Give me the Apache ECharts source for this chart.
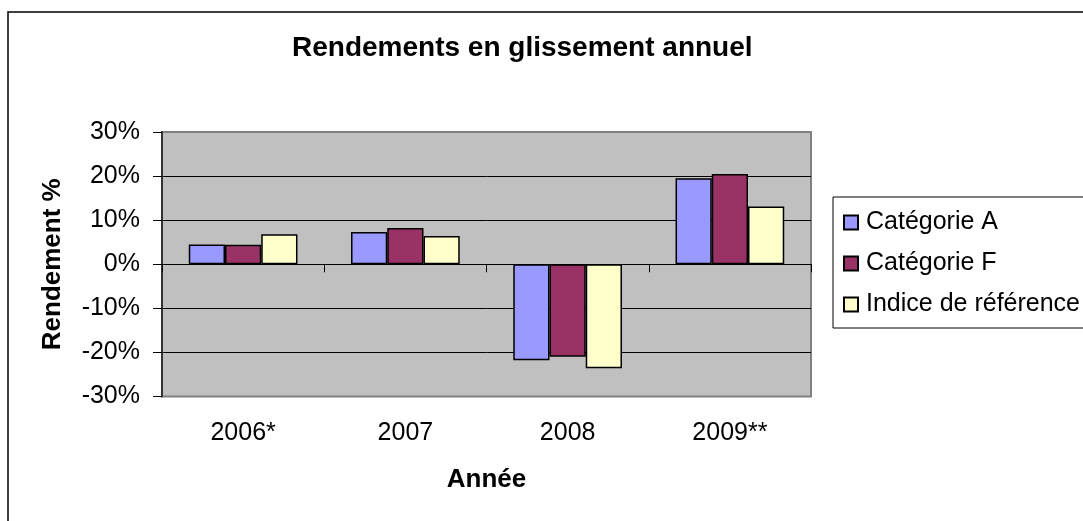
<!DOCTYPE html>
<html>
<head>
<meta charset="utf-8">
<script src="https://cdn.jsdelivr.net/npm/echarts@6/dist/echarts.min.js"></script>
<style>
html,body{margin:0;padding:0;background:#fff;}
#chart{width:1083px;height:521px;}
</style>
</head>
<body>
<div id="chart"></div>
<script>
const categories = ['2006*', '2007', '2008', '2009**'];
const seriesNames = ['Catégorie A', 'Catégorie F', 'Indice de référence'];
const categorieA = [4.5, 7.3, -21.8, 19.5];
const categorieF = [4.4, 8.2, -21.0, 20.5];
const indiceReference = [6.8, 6.4, -23.6, 13.1];
const yMin = -30, yMax = 30, yStep = 10;

const FONT = 'Liberation Sans, Arial, Helvetica, sans-serif';
const colors = ['#9999FF', '#993366', '#FFFFCC'];
const values = [categorieA, categorieF, indiceReference];

const chart = echarts.init(document.getElementById('chart'));
chart.setOption({
  animation: false,
  backgroundColor: '#ffffff',
  textStyle: { fontFamily: FONT, color: '#000' },
  title: {
    text: 'Rendements en glissement annuel',
    left: 287, top: 29,
    textStyle: { fontFamily: FONT, fontSize: 28, fontWeight: 'bold', color: '#000' }
  },
  graphic: [{
    type: 'rect', silent: true, z: -1,
    shape: { x: 8, y: 12, width: 1100, height: 530 },
    style: { fill: 'none', stroke: '#000', lineWidth: 1.5 }
  }],
  legend: {
    orient: 'vertical',
    left: 833, top: 197,
    padding: [13, 30, 11, 10],
    itemWidth: 14, itemHeight: 14, itemGap: 16,
    icon: 'rect',
    backgroundColor: '#fff',
    borderColor: '#000', borderWidth: 1,
    textStyle: { fontFamily: FONT, fontSize: 25, color: '#000', lineHeight: 25, padding: [0, 0, 0, 3] },
    data: seriesNames
  },
  grid: {
    left: 162, right: 272, top: 132, bottom: 124.5,
    show: true, backgroundColor: '#C0C0C0',
    borderColor: '#808080', borderWidth: 2
  },
  xAxis: [{
    type: 'category', data: categories, position: 'bottom',
    axisLine: { onZero: true, lineStyle: { color: '#000', width: 1 } },
    axisTick: { show: true, length: 8, lineStyle: { color: '#000', width: 1 } },
    axisLabel: { show: false },
    splitLine: { show: false }
  }, {
    type: 'category', data: categories, position: 'bottom',
    axisLine: { show: false, onZero: false },
    axisTick: { show: false },
    axisLabel: { show: true, margin: 24, fontFamily: FONT, fontSize: 25, color: '#000' },
    name: 'Année', nameLocation: 'middle', nameGap: 70,
    nameTextStyle: { fontFamily: FONT, fontSize: 26, fontWeight: 'bold', color: '#000' }
  }],
  yAxis: {
    type: 'value', min: yMin, max: yMax, interval: yStep,
    axisLine: { show: true, lineStyle: { color: '#333', width: 2 } },
    axisTick: { show: true, length: 9, lineStyle: { color: '#000', width: 1 } },
    axisLabel: { margin: 22, fontFamily: FONT, fontSize: 25, color: '#000', formatter: '{value}%' },
    splitLine: { show: true, showMinLine: false, showMaxLine: false, lineStyle: { color: '#000', width: 1 } },
    name: 'Rendement %', nameLocation: 'middle', nameGap: 96, nameRotate: 90,
    nameTextStyle: { fontFamily: FONT, fontSize: 26, fontWeight: 'bold', color: '#000' }
  },
  series: seriesNames.map((n, i) => ({
    name: n, type: 'bar', xAxisIndex: 0,
    data: values[i],
    barGap: '0%', barCategoryGap: '33%',
    itemStyle: { color: colors[i], borderColor: '#000', borderWidth: 1.5 }
  }))
});
</script>
</body>
</html>
